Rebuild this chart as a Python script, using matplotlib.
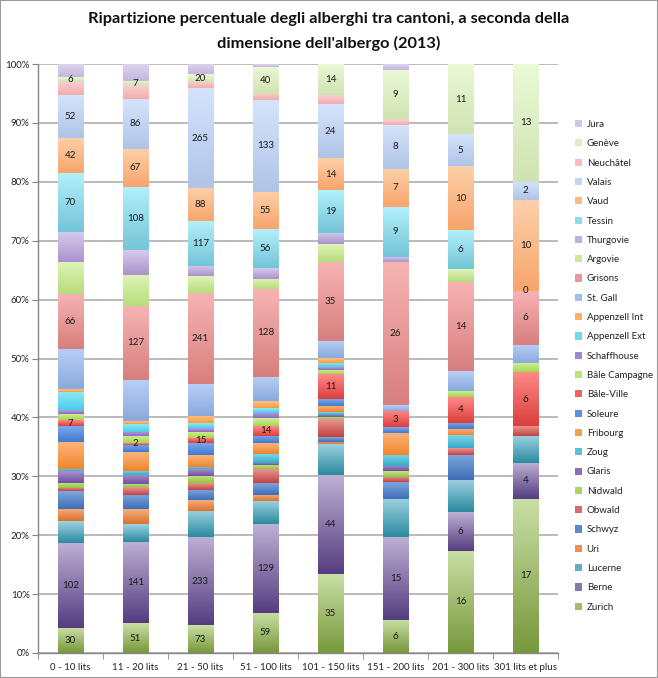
import matplotlib
matplotlib.use('Agg')
import matplotlib.pyplot as plt
import numpy as np
from matplotlib.colors import to_rgb
from matplotlib.patches import Rectangle
from matplotlib.ticker import FixedLocator

plt.rcParams['font.family'] = ['Lato', 'DejaVu Sans']

categories = ['0 - 10 lits', '11 - 20 lits', '21 - 50 lits', '51 - 100 lits',
              '101 - 150 lits', '151 - 200 lits', '201 - 300 lits', '301 lits et plus']

cantons = ['Zurich', 'Berne', 'Lucerne', 'Uri', 'Schwyz', 'Obwald', 'Nidwald', 'Glaris',
           'Zoug', 'Fribourg', 'Soleure', 'Bâle-Ville', 'Bâle Campagne', 'Schaffhouse',
           'Appenzell Ext', 'Appenzell Int', 'St. Gall', 'Grisons', 'Argovie', 'Thurgovie',
           'Tessin', 'Vaud', 'Valais', 'Neuchâtel', 'Genève', 'Jura']

# hotel counts per canton for each size category
zurich        = [30, 51, 73, 59, 35, 6, 16, 17]
berne         = [102, 141, 233, 129, 44, 15, 6, 4]
lucerne       = [26, 31, 69, 34, 14, 7, 5, 3]
uri           = [15, 25, 28, 9, 1, 0, 0, 0]
schwyz        = [21, 25, 27, 17, 2, 3, 4, 0]
obwald        = [4, 13, 18, 20, 8, 1, 1, 1]
nidwald       = [6, 6, 19, 6, 1, 1, 0, 0]
glaris        = [14, 16, 18, 3, 1, 1, 0, 0]
zoug          = [3, 7, 7, 13, 1, 2, 2, 0]
fribourg      = [32, 32, 31, 16, 3, 4, 1, 0]
soleure       = [19, 13, 31, 11, 3, 1, 1, 0]
bale_ville    = [7, 2, 15, 14, 11, 3, 4, 6]
bale_campagne = [8, 13, 16, 11, 2, 0, 1, 1]
schaffhouse   = [4, 7, 9, 8, 1, 0, 0, 0]
appenzell_ext = [22, 13, 13, 7, 2, 0, 0, 0]
appenzell_int = [3, 5, 19, 10, 2, 0, 0, 0]
st_gall       = [48, 72, 85, 36, 8, 1, 3, 2]
grisons       = [66, 127, 241, 128, 35, 26, 14, 6]
argovie       = [39, 54, 44, 15, 8, 0, 2, 0]
thurgovie     = [36, 43, 27, 16, 5, 1, 0, 0]
tessin        = [70, 108, 117, 56, 19, 9, 6, 0]
vaud          = [42, 67, 88, 55, 14, 7, 10, 10]
valais        = [52, 86, 265, 133, 24, 8, 5, 2]
neuchatel     = [16, 23, 16, 9, 4, 1, 0, 0]
geneve        = [6, 7, 20, 40, 14, 9, 11, 13]
jura          = [15, 30, 27, 4, 0, 1, 0, 0]

series = [zurich, berne, lucerne, uri, schwyz, obwald, nidwald, glaris, zoug, fribourg,
          soleure, bale_ville, bale_campagne, schaffhouse, appenzell_ext, appenzell_int,
          st_gall, grisons, argovie, thurgovie, tessin, vaud, valais, neuchatel, geneve, jura]

labelled = ['Zurich', 'Berne', 'Bâle-Ville', 'Grisons', 'Tessin', 'Vaud', 'Valais', 'Genève']

y_ticks = [0, 10, 20, 30, 40, 50, 60, 70, 80, 90, 100]
title = "Ripartizione percentuale degli alberghi tra cantoni, a seconda della\ndimensione dell'albergo (2013)"

top_colors = ['#c9dfa5', '#bdb0d4', '#9dd2e2', '#f6ae80', '#7ea5df', '#e89592',
              '#c2e68a', '#a891cc', '#7bd6ea', '#fcb47a', '#7aa8ea', '#ff8a88',
              '#d1f09a', '#b59fe0', '#8fe8f8', '#ffc28a', '#b8d0f7', '#f7b4b3',
              '#dff4b8', '#d6cbee', '#b2f0fb', '#fdd0aa', '#d5e4fc', '#fbd0d0',
              '#ebf9d6', '#ddd5ee']
bottom_colors = ['#77983b', '#553d80', '#2b8aa0', '#d9732b', '#3d6fb5', '#c0433f',
                 '#94c43f', '#6e4fa0', '#38aac7', '#f0852e', '#3f7ad0', '#db3f3b',
                 '#a7d652', '#8a6ac0', '#4ccde8', '#ff9a40', '#8aa9dc', '#d77f7e',
                 '#b7dc7c', '#a993cc', '#74c4d8', '#f7a56b', '#b0c4e8', '#f0adad',
                 '#d0e3b2', '#c5b6dd']

counts = np.array(series, dtype=float)
totals = counts.sum(axis=0)
pct = counts / totals * 100.0

W, H = 658, 678
fig = plt.figure(figsize=(W / 100, H / 100), dpi=100)
fig.patch.set_facecolor('white')
ax = fig.add_axes([38 / W, 25 / H, 520 / W, 589 / H])

x = np.arange(len(categories))
base = np.zeros(len(categories))
handles = []


def gradient(top, bot, n=64):
    t = np.linspace(0, 1, n)[:, None]
    c = np.array(to_rgb(bot)) * (1 - t) + np.array(to_rgb(top)) * t
    return c[:, None, :]


for i, name in enumerate(cantons):
    mid = tuple((np.array(to_rgb(top_colors[i])) + np.array(to_rgb(bottom_colors[i]))) / 2)
    bars = ax.bar(x, pct[i], 0.4, bottom=base, color=mid, label=name, zorder=2, linewidth=0)
    img = gradient(top_colors[i], bottom_colors[i])
    for r in bars:
        h = r.get_height()
        if h <= 0:
            continue
        x0, y0, w = r.get_x(), r.get_y(), r.get_width()
        ax.imshow(img, extent=(x0, x0 + w, y0, y0 + h), origin='lower', aspect='auto',
                  zorder=2.5, interpolation='bilinear')
    if name in labelled:
        ax.bar_label(bars, labels=[str(int(v)) for v in counts[i]], label_type='center',
                     fontsize=7, color='#1a1a1a', zorder=6)
    handles.append(bars)
    base = base + pct[i]

ax.set_xlim(-0.5, len(categories) - 0.5)
ax.set_ylim(0, 100)
ax.set_xticks(x)
ax.set_xticklabels(categories, fontsize=7, color='#222222')
ax.xaxis.set_minor_locator(FixedLocator(np.arange(-0.5, len(categories), 1.0)))
ax.tick_params(axis='x', which='major', length=0, pad=7)
ax.tick_params(axis='x', which='minor', length=4, color='#868686', direction='out')
ax.set_yticks(y_ticks)
ax.set_yticklabels([f'{t}%' for t in y_ticks], fontsize=7, color='#222222')
ax.tick_params(axis='y', length=4, color='#868686', direction='out', pad=2)
ax.yaxis.grid(True, color='#b5b5b5', linewidth=1.3, zorder=0)
ax.set_axisbelow(True)
for s in ['top', 'right']:
    ax.spines[s].set_visible(False)
for s in ['left', 'bottom']:
    ax.spines[s].set_color('#868686')
    ax.spines[s].set_linewidth(1.0)

fig.text(329 / W, 1 - 12 / H, title, ha='center', va='top', fontsize=11.8, fontweight='bold',
         color='#111111', linespacing=1.8)

leg = fig.legend(handles[::-1], cantons[::-1], loc='upper left',
                 bbox_to_anchor=(575 / W, 1 - 120 / H), frameon=False, fontsize=7,
                 handlelength=0.75, handleheight=0.75, handletextpad=0.45,
                 labelspacing=1.06, borderaxespad=0, borderpad=0)
for t in leg.get_texts():
    t.set_color('#222222')

fig.patches.append(Rectangle((0, 0), 1, 1, transform=fig.transFigure, fill=False,
                             edgecolor='#9a9a9a', linewidth=1.5))

fig.savefig('out.png', dpi=100)
